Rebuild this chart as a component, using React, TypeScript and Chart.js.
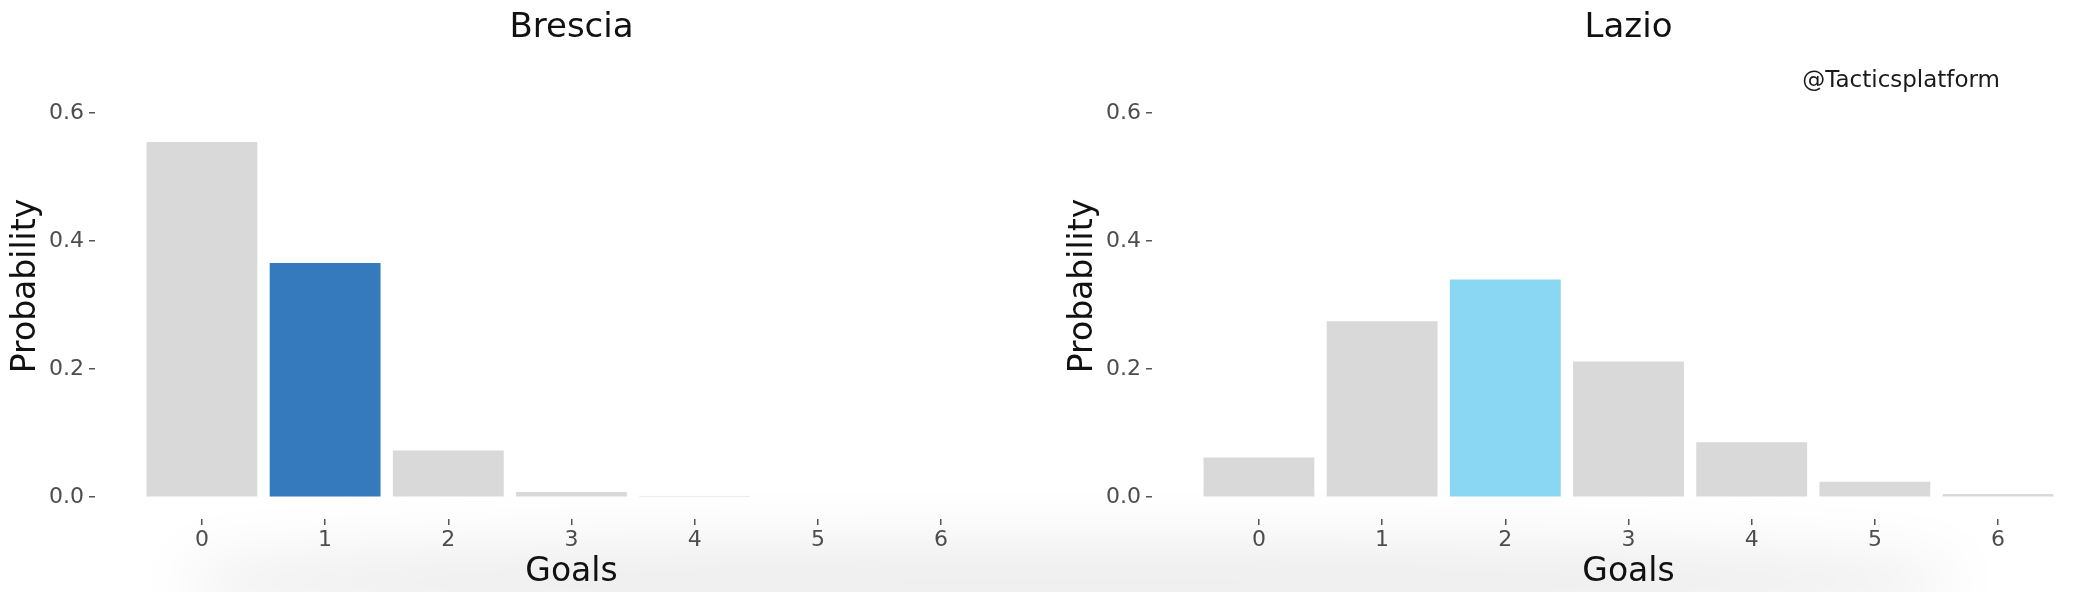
import { useEffect, useRef } from 'react';
import { Chart, registerables } from 'chart.js';

Chart.register(...registerables);

// goals on the x axis, probabilities per team
const goals = [0, 1, 2, 3, 4, 5, 6];
const bresciaProb = [0.555, 0.366, 0.073, 0.008, 0.002, 0, 0];
const lazioProb = [0.062, 0.275, 0.34, 0.212, 0.086, 0.024, 0.005];
const yTicks = [0, 0.2, 0.4, 0.6];

const FONT = '"DejaVu Sans", Verdana, sans-serif';
const GREY = '#d9d9d9';

type PanelProps = {
  title: string;
  values: number[];
  highlight: number;
  color: string;
  watermark?: string;
};

function GoalsPanel({ title, values, highlight, color, watermark }: PanelProps) {
  const chartRef = useRef<HTMLCanvasElement>(null);
  const chartInstance = useRef<Chart | null>(null);

  useEffect(() => {
    if (!chartRef.current) return;
    const ctx = chartRef.current.getContext('2d');
    if (!ctx) return;

    if (chartInstance.current) {
      chartInstance.current.destroy();
      chartInstance.current = null;
    }

    const watermarkPlugin = {
      id: 'watermark',
      afterDraw: (chart: Chart) => {
        if (!watermark) return;
        const c = chart.ctx;
        c.save();
        c.font = '23px ' + FONT;
        c.fillStyle = '#1a1a1a';
        c.textAlign = 'right';
        c.textBaseline = 'alphabetic';
        c.fillText(watermark, 943, 87);
        c.restore();
      }
    };

    chartInstance.current = new Chart(ctx, {
      type: 'bar',
      data: {
        datasets: [
          {
            data: goals.map((g, i) => ({ x: g, y: values[i] })),
            backgroundColor: goals.map((_, i) => (i === highlight ? color : GREY)),
            borderWidth: 0,
            categoryPercentage: 0.9,
            barPercentage: 1
          }
        ]
      },
      options: {
        animation: false,
        responsive: true,
        maintainAspectRatio: false,
        layout: { padding: { left: 0, right: 9, top: 0, bottom: 0 } },
        plugins: {
          legend: { display: false },
          tooltip: { enabled: false },
          title: {
            display: true,
            text: title,
            fullSize: false,
            color: '#111',
            font: { family: FONT, size: 34, weight: 'normal' },
            padding: { top: 8, bottom: 4.2 }
          }
        },
        scales: {
          x: {
            type: 'linear',
            min: -0.868,
            max: 6.868,
            offset: false,
            afterBuildTicks: (axis) => {
              axis.ticks = goals.map((g) => ({ value: g }));
            },
            afterFit: (scale) => {
              scale.height = 73;
            },
            ticks: {
              autoSkip: false,
              maxRotation: 0,
              padding: 2,
              color: '#4d4d4d',
              font: { family: FONT, size: 22 },
              callback: (value) => String(value)
            },
            grid: {
              offset: false,
              drawOnChartArea: false,
              tickLength: 6,
              color: '#555',
              lineWidth: 1.5
            },
            border: { display: false },
            title: {
              display: true,
              text: 'Goals',
              color: '#111',
              font: { family: FONT, size: 33 },
              padding: { top: 0, bottom: 0 }
            }
          },
          y: {
            type: 'linear',
            min: -0.034,
            max: 0.694,
            afterBuildTicks: (axis) => {
              axis.ticks = yTicks.map((v) => ({ value: v }));
            },
            afterFit: (scale) => {
              scale.width = 95;
            },
            ticks: {
              padding: 5,
              color: '#4d4d4d',
              font: { family: FONT, size: 22 },
              callback: (value) => Number(value).toFixed(1)
            },
            grid: {
              drawOnChartArea: false,
              tickLength: 6,
              color: '#555',
              lineWidth: 1.5
            },
            border: { display: false },
            title: {
              display: true,
              text: 'Probability',
              color: '#111',
              font: { family: FONT, size: 33 },
              padding: { top: 7, bottom: 0 }
            }
          }
        }
      },
      plugins: [watermarkPlugin]
    });

    return () => {
      if (chartInstance.current) {
        chartInstance.current.destroy();
        chartInstance.current = null;
      }
    };
  }, [title, values, highlight, color, watermark]);

  return (
    <div style={{ position: 'relative', width: 1057, height: 592 }}>
      <canvas ref={chartRef}></canvas>
    </div>
  );
}

export default function App() {
  useEffect(() => {
    document.body.style.margin = '0';
  }, []);

  return (
    <div
      style={{
        position: 'relative',
        width: 2074,
        height: 592,
        overflow: 'hidden',
        background: '#fff'
      }}
    >
      {/* soft grey shade along the bottom edge */}
      <div
        style={{
          position: 'absolute',
          left: 190,
          width: 1760,
          bottom: -30,
          height: 80,
          background: 'rgba(0,0,0,0.07)',
          filter: 'blur(28px)',
          borderRadius: '40%'
        }}
      ></div>
      <div style={{ position: 'absolute', left: 0, top: 0 }}>
        <GoalsPanel title="Brescia" values={bresciaProb} highlight={1} color="#357abd" />
      </div>
      <div style={{ position: 'absolute', left: 1057, top: 0 }}>
        <GoalsPanel
          title="Lazio"
          values={lazioProb}
          highlight={2}
          color="#8ad7f3"
          watermark="@Tacticsplatform"
        />
      </div>
    </div>
  );
}
